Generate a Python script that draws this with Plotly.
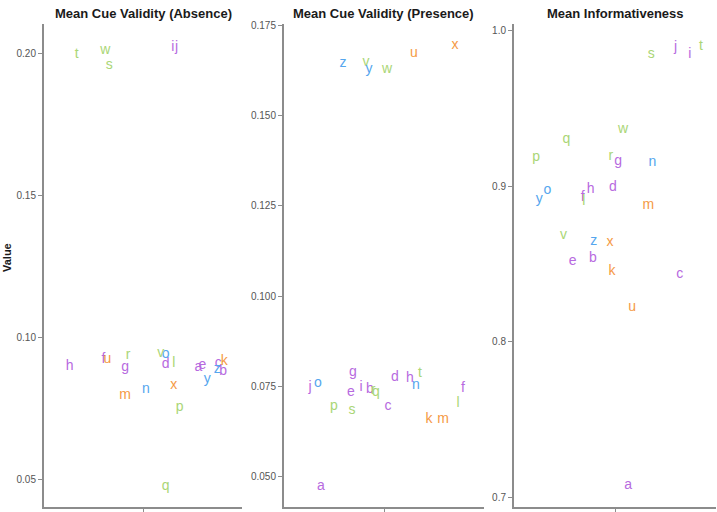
import plotly.graph_objects as go

letters = list("abcdefghijklmnopqrstuvwxyz")
group_of = {}
for ch in "abcdefghij":
    group_of[ch] = "purple"
for ch in "kmux":
    group_of[ch] = "orange"
for ch in "noyz":
    group_of[ch] = "blue"
for ch in "lpqrstvw":
    group_of[ch] = "green"
palette = {"purple": "#b76ae0", "orange": "#f59a45", "blue": "#55a6ee", "green": "#aad676"}

panel_titles = ["Mean Cue Validity (Absence)", "Mean Cue Validity (Presence)", "Mean Informativeness"]

# values per letter a..z
absence_val = [0.0895, 0.0878, 0.0909, 0.0906, 0.0902, 0.0923, 0.0895, 0.0899, 0.2021, 0.2021,
               0.0916, 0.0909, 0.0794, 0.0818, 0.0940, 0.0752, 0.0476, 0.0937, 0.1958, 0.1997,
               0.0923, 0.0944, 0.2010, 0.0829, 0.0853, 0.0885]
absence_jit = [1.336, 1.486, 1.456, 1.138, 1.360, 0.760, 0.892, 0.556, 1.180, 1.204,
               1.492, 1.186, 0.892, 1.018, 1.138, 1.222, 1.138, 0.910, 0.796, 0.598,
               0.784, 1.108, 0.772, 1.186, 1.390, 1.450]

presence_val = [0.0473, 0.0742, 0.0695, 0.0775, 0.0734, 0.0745, 0.0788, 0.0772, 0.0747, 0.0747,
                0.0659, 0.0703, 0.0659, 0.0753, 0.0758, 0.0695, 0.0734, 0.0739, 0.0684, 0.0786,
                0.1673, 0.1648, 0.1629, 0.1695, 0.1629, 0.1646]
presence_jit = [0.622, 0.916, 1.024, 1.066, 0.802, 1.474, 0.814, 1.156, 0.862, 0.556,
                1.270, 1.444, 1.354, 1.192, 0.604, 0.700, 0.952, 0.934, 0.808, 1.216,
                1.180, 0.892, 1.018, 1.426, 0.910, 0.754]

inform_val = [0.7076, 0.8535, 0.8433, 0.8994, 0.8516, 0.8930, 0.9159, 0.8981, 0.9847, 0.9892,
              0.8452, 0.8904, 0.8873, 0.9153, 0.8975, 0.9185, 0.9299, 0.9190, 0.9847, 0.9898,
              0.8217, 0.8682, 0.9363, 0.8637, 0.8917, 0.8643]
inform_jit = [1.078, 0.868, 1.384, 0.988, 0.748, 0.808, 1.018, 0.856, 1.444, 1.360,
              0.982, 0.814, 1.198, 1.222, 0.598, 0.532, 0.712, 0.976, 1.216, 1.510,
              1.102, 0.694, 1.048, 0.970, 0.550, 0.874]

y_ranges = [[0.0402, 0.2105], [0.0415, 0.1755], [0.6936, 1.0045]]
y_ticks = [[0.05, 0.10, 0.15, 0.20], [0.050, 0.075, 0.100, 0.125, 0.150, 0.175], [0.7, 0.8, 0.9, 1.0]]
y_ticktext = [["0.05", "0.10", "0.15", "0.20"],
              ["0.050", "0.075", "0.100", "0.125", "0.150", "0.175"],
              ["0.7", "0.8", "0.9", "1.0"]]

W, H = 717, 512
x_px = [(44, 242), (284, 484), (514, 716)]
y_dom = [1 - 507 / H, 1 - 20 / H]

fig = go.Figure()
colors = [palette[group_of[c]] for c in letters]
datasets = [(absence_jit, absence_val), (presence_jit, presence_val), (inform_jit, inform_val)]
axis_color = "#8c8c8c"
for i, (xj, yv) in enumerate(datasets):
    sfx = "" if i == 0 else str(i + 1)
    fig.add_trace(go.Scatter(
        x=xj, y=yv, text=letters, mode="text",
        textfont=dict(family="Liberation Sans, Arial, sans-serif", size=14, color=colors),
        textposition="middle center", showlegend=False, hoverinfo="skip",
        xaxis="x" + sfx, yaxis="y" + sfx))
    dom = [x_px[i][0] / W, x_px[i][1] / W]
    fig.update_layout(**{
        "xaxis" + sfx: dict(domain=dom, range=[0.4, 1.6], anchor="y" + sfx,
                            showgrid=False, zeroline=False, showline=True,
                            linecolor=axis_color, linewidth=2,
                            ticks="outside", ticklen=4, tickcolor=axis_color,
                            tickvals=[1], ticktext=[""], fixedrange=True),
        "yaxis" + sfx: dict(domain=y_dom, range=y_ranges[i], anchor="x" + sfx,
                            showgrid=False, zeroline=False, showline=True,
                            linecolor=axis_color, linewidth=2,
                            ticks="outside", ticklen=4, tickcolor=axis_color,
                            tickvals=y_ticks[i], ticktext=y_ticktext[i],
                            tickfont=dict(family="Liberation Sans, Arial, sans-serif", size=10, color="#555555")),
    })
    fig.add_annotation(
        x=(x_px[i][0] + x_px[i][1]) / 2 / W, y=1 - 10 / H, xref="paper", yref="paper",
        text="<b>" + panel_titles[i] + "</b>", showarrow=False,
        font=dict(family="Liberation Sans, Arial, sans-serif", size=13, color="#1a1a1a"),
        xanchor="center", yanchor="middle")

fig.add_annotation(
    x=7 / W, y=0.5, xref="paper", yref="paper", text="<b>Value</b>", textangle=-90,
    showarrow=False, font=dict(family="Liberation Sans, Arial, sans-serif", size=11, color="#1a1a1a"),
    xanchor="center", yanchor="middle")

fig.update_layout(width=W, height=H, margin=dict(l=0, r=0, t=0, b=0),
                  plot_bgcolor="white", paper_bgcolor="white")
fig.write_html("out.html")
